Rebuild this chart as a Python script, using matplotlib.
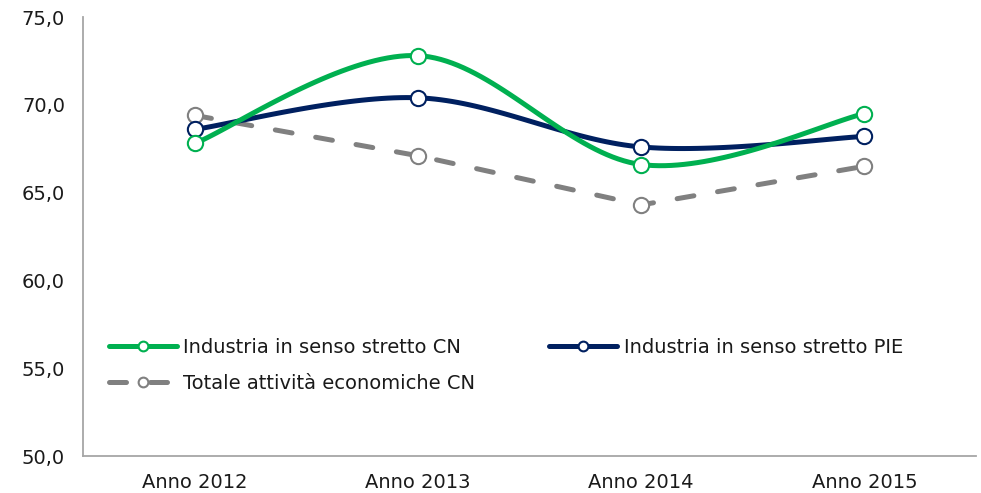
import numpy as np
import matplotlib
matplotlib.use("Agg")
import matplotlib.pyplot as plt
from matplotlib.lines import Line2D

categories = ["Anno 2012", "Anno 2013", "Anno 2014", "Anno 2015"]
industria_cn = [67.8, 72.8, 66.6, 69.5]
industria_pie = [68.6, 70.4, 67.6, 68.2]
totale_cn = [69.4, 67.1, 64.3, 66.5]
labels = ["Industria in senso stretto CN", "Industria in senso stretto PIE",
          "Totale attività economiche CN"]
yticks = [50, 55, 60, 65, 70, 75]


def smooth(x, y, n=40):
    """Catmull-Rom smoothing (Excel-style smoothed line)."""
    x = np.asarray(x, float)
    y = np.asarray(y, float)
    px = np.concatenate([[x[0]], x, [x[-1]]])
    py = np.concatenate([[y[0]], y, [y[-1]]])
    xs, ys = [], []
    for i in range(1, len(px) - 2):
        p0, p1, p2, p3 = (np.array([px[j], py[j]]) for j in (i - 1, i, i + 1, i + 2))
        c1 = p1 + (p2 - p0) / 6
        c2 = p2 - (p3 - p1) / 6
        t = np.linspace(0, 1, n)[:, None]
        b = ((1 - t) ** 3) * p1 + 3 * ((1 - t) ** 2) * t * c1 + 3 * (1 - t) * t ** 2 * c2 + t ** 3 * p2
        xs.append(b[:, 0])
        ys.append(b[:, 1])
    return np.concatenate(xs), np.concatenate(ys)


plt.rcParams['font.family'] = ['DejaVu Sans']
fig = plt.figure(figsize=(9.81, 4.93), dpi=100)
ax = fig.add_axes([0.0846, 0.075, 0.9104, 0.8905])

x = np.arange(len(categories))
green = "#00B050"
navy = "#002060"
gray = "#808080"
lw = 3.6
ms = 11
dash = (3.4, 4.8)

series = [
    (industria_cn, green, "-", labels[0], True),
    (industria_pie, navy, "-", labels[1], True),
    (totale_cn, gray, "--", labels[2], False),
]
handles = {}
for vals, col, ls, lab, sm in series[::-1]:
    if sm:
        sx, sy = smooth(x, vals)
    else:
        sx, sy = x, np.asarray(vals, float)
    if ls == "--":
        ax.plot(sx, sy, color=col, lw=lw, dash_capstyle="round",
                dashes=dash, zorder=2)
        h = Line2D([], [], color=col, lw=lw, dashes=dash, dash_capstyle="round",
                   marker="o", ms=7, mfc="white", mec=col, mew=1.5)
    else:
        ax.plot(sx, sy, color=col, lw=lw, solid_capstyle="round", zorder=2)
        h = Line2D([], [], color=col, lw=lw, solid_capstyle="round",
                   marker="o", ms=7, mfc="white", mec=col, mew=1.5)
    ax.plot(x, vals, ls="none", marker="o", ms=ms, mfc="white", mec=col,
            mew=1.5, zorder=3)
    handles[lab] = h

order = [labels[0], labels[2], labels[1]]
leg = ax.legend([handles[l] for l in order], order, ncol=2, loc="upper left",
                bbox_to_anchor=(0.02, 0.287), frameon=False, fontsize=14,
                handlelength=3.5, handletextpad=0.35, columnspacing=3.8,
                labelspacing=0.9, markerfirst=True, borderaxespad=0)
for t in leg.get_texts():
    t.set_color("#1a1a1a")

ax.set_xlim(-0.5, len(categories) - 0.5)
ax.set_ylim(min(yticks), max(yticks))
ax.set_yticks(yticks)
ax.set_yticklabels([f"{v:.1f}".replace(".", ",") for v in yticks])
ax.set_xticks(x)
ax.set_xticklabels(categories)
ax.tick_params(axis="both", length=0, labelsize=14, colors="#1a1a1a")
ax.tick_params(axis="y", pad=13)
ax.tick_params(axis="x", pad=12)
for s in ("top", "right"):
    ax.spines[s].set_visible(False)
for s in ("left", "bottom"):
    ax.spines[s].set_color("#A6A6A6")
    ax.spines[s].set_linewidth(1.3)

fig.savefig("out.png", dpi=100)
